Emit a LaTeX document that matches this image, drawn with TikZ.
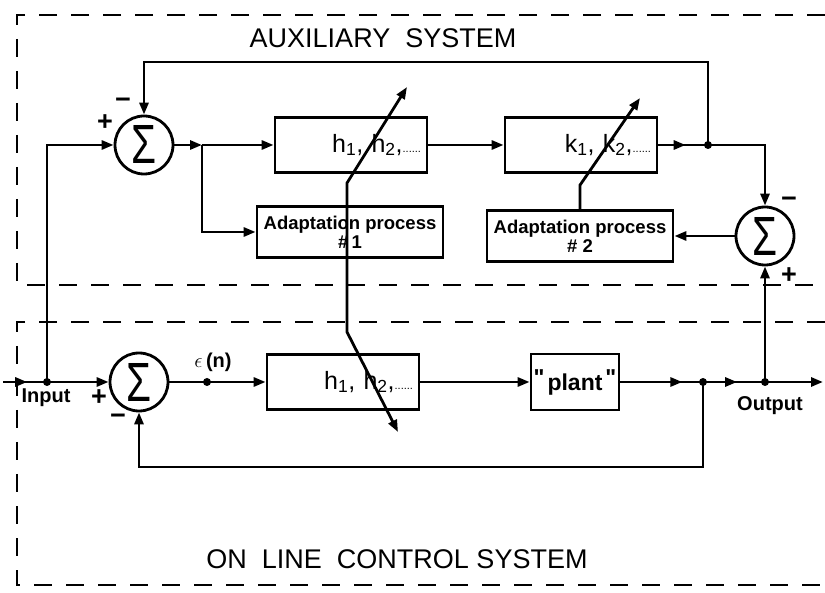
\documentclass[tikz,border=0pt]{standalone}
\usepackage{fontspec}
\setmainfont{Liberation Sans}
\usetikzlibrary{arrows.meta,decorations.markings}

\newcommand{\sig}{\resizebox{25pt}{38pt}{Σ}}
\newcommand{\smalldots}{{\fontsize{11}{11}\selectfont ......}}

\tikzset{
  >={Triangle[length=12pt,width=9pt]},
  every path/.style={line width=2.8pt},
  hblk/.style={draw,line width=2.8pt,inner xsep=6pt,inner ysep=0pt,text width=140pt,
    align=right,minimum height=55pt,font=\fontsize{25}{27}\selectfont},
  adblk/.style={draw,line width=2.8pt,inner sep=1pt,minimum width=186pt,minimum height=51pt,
    align=center,font=\fontsize{18.5}{19}\selectfont\bfseries},
  sumnode/.style={draw,line width=2.8pt,circle,minimum size=58pt,inner sep=0pt},
  sgn/.style={font=\fontsize{27}{27}\selectfont\bfseries,inner sep=0pt},
  lbl/.style={font=\fontsize{20}{22}\selectfont\bfseries},
  title/.style={font=\fontsize{27}{30}\selectfont},
  frame/.style={dashed,line width=1.8pt,dash pattern=on 18pt off 14pt},
  marr/.style={postaction={decorate},decoration={markings,
    mark=at position #1 with {\arrow{>}}}}
}

\begin{document}
\begin{tikzpicture}[x=1pt,y=-1pt]
\useasboundingbox (0,0) rectangle (825,593);

% the two systems
\draw[frame] (825,15) -- (17,15) -- (17,285) -- (825,285);
\draw[frame] (825,322) -- (17,322) -- (17,585) -- (825,585);
\node[title] at (383,38) {AUXILIARY\ \ SYSTEM};
\node[title] at (397,559) {ON\ \ LINE\ \ CONTROL SYSTEM};

% auxiliary system
\node[sumnode] (sumA) at (144,145) {\sig};
\node[hblk] (hA) at (351,145) {h\textsubscript{1}, h\textsubscript{2},\smalldots};
\node[hblk] (kA) at (581,145) {k\textsubscript{1}, k\textsubscript{2},\smalldots};
\node[adblk] (adA) at (350,232) {Adaptation process\\\#\,1};
\node[adblk] (adB) at (580,236) {Adaptation process\\\# 2};
\node[sumnode] (sumB) at (765,236) {\sig};

% on line control system
\node[sumnode] (sumC) at (139,382) {\sig};
\node[hblk] (hB) at (343,382) {h\textsubscript{1}, h\textsubscript{2},\smalldots};
\node[draw,line width=2.8pt,minimum width=88pt,minimum height=56pt,inner sep=0pt,
  font=\fontsize{23}{23}\selectfont\bfseries] (plant) at (575,382)
  {\raisebox{5pt}{\textquotedbl}\hspace{3pt}plant\hspace{3pt}\raisebox{5pt}{\textquotedbl}};

\coordinate (inL) at (3,382);
\coordinate (in1) at (47,382);
\coordinate (jA) at (202,145);
\coordinate (jK) at (708,145);
\coordinate (eps) at (207,382);
\coordinate (jP) at (703,382);
\coordinate (jO) at (765,382);
\coordinate (outR) at (823,382);
\coordinate (pA1) at (347,183);
\coordinate (pA2) at (347,332);
\coordinate (hTipA) at (407,87);
\coordinate (hTipB) at (398,432);
\coordinate (kTip) at (640,98);

% signal lines
\draw[marr=0.55] (inL) -- (in1);
\draw[->] (in1) -- (sumC.west);
\draw[->] (in1) |- (sumA.west);
\draw[->] (sumA.east) -- (jA);
\draw[->] (jA) -- (hA.west);
\draw[->] (jA) |- (adA.west);
\draw[->] (hA.east) -- (kA.west);
\draw[marr=0.55] (kA.east) -- (jK);
\draw[->] (jK) -| (sumB.north);
\draw[->] (jK) -- ++(0,-83) -| (sumA.north);
\draw[->] (sumB.west) -- (adB.east);
\draw[->] (adB.north) -- ++(0,-24) -- (kTip);
\draw[<->] (hTipA) -- (pA1) -- (pA2) -- (hTipB);

\draw (sumC.east) -- (eps);
\draw[->] (eps) -- (hB.west);
\draw[->] (hB.east) -- (plant.west);
\draw[marr=0.75] (plant.east) -- (jP);
\draw[marr=0.55] (jP) -- (jO);
\draw[->] (jO) -- (outR);
\draw[->] (jO) -- (sumB.south);
\draw[->] (jP) -- ++(0,85) -| (sumC.south);

\foreach \p in {in1,jK,eps,jP,jO}
  \fill (\p) circle (4pt);

% signs and labels
\node[sgn] at (105,123) {+};
\node[sgn] at (123,103) {−};
\node[sgn] at (789,202) {−};
\node[sgn] at (789,276) {+};
\node[sgn] at (99,398) {+};
\node[sgn] at (118,419) {−};
\node[lbl] at (46,398) {Input};
\node[lbl] at (770,406) {Output};
\node[lbl] at (213,362) {$\epsilon$\,(n)};
\end{tikzpicture}
\end{document}
